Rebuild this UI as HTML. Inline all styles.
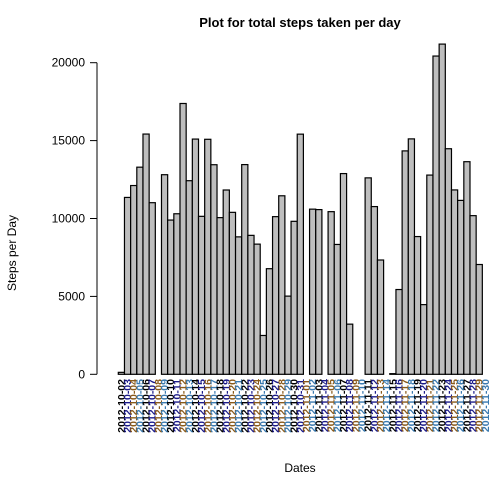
<!DOCTYPE html>
<html><head><meta charset="utf-8"><style>
body{margin:0;background:#fff}
svg{display:block;font-family:"Liberation Sans",Arial,sans-serif}
</style></head><body>
<svg id="chart" width="504" height="504" viewBox="0 0 504 504" xmlns="http://www.w3.org/2000/svg">
<text x="300" y="27" text-anchor="middle" font-size="13" font-weight="bold">Plot for total steps taken per day</text>
<text transform="translate(16,253) rotate(-90)" text-anchor="middle" font-size="12">Steps per Day</text>
<text x="300" y="472" text-anchor="middle" font-size="12">Dates</text>
<g id="bars"></g><g id="yaxis"></g><g id="xlabels"></g>
</svg>
<script>
const dates=["2012-10-02","2012-10-03","2012-10-04","2012-10-05","2012-10-06","2012-10-07","2012-10-08","2012-10-09","2012-10-10","2012-10-11","2012-10-12","2012-10-13","2012-10-14","2012-10-15","2012-10-16","2012-10-17","2012-10-18","2012-10-19","2012-10-20","2012-10-21","2012-10-22","2012-10-23","2012-10-24","2012-10-25","2012-10-26","2012-10-27","2012-10-28","2012-10-29","2012-10-30","2012-10-31","2012-11-01","2012-11-02","2012-11-03","2012-11-04","2012-11-05","2012-11-06","2012-11-07","2012-11-08","2012-11-09","2012-11-10","2012-11-11","2012-11-12","2012-11-13","2012-11-14","2012-11-15","2012-11-16","2012-11-17","2012-11-18","2012-11-19","2012-11-20","2012-11-21","2012-11-22","2012-11-23","2012-11-24","2012-11-25","2012-11-26","2012-11-27","2012-11-28","2012-11-29","2012-11-30"];
const steps=[126,11352,12116,13294,15420,11015,null,12811,9900,10304,17382,12426,15098,10139,15084,13452,10056,11829,10395,8821,13460,8918,8355,2492,6778,10119,11458,5018,9819,15414,null,10600,10571,null,10439,8334,12883,3219,null,null,12608,10765,7336,null,41,5441,14339,15110,8841,4472,12787,20427,21194,14478,11834,11162,13646,10183,7047,null];
const yTicks=[0,5000,10000,15000,20000];
const NS="http://www.w3.org/2000/svg";
const x0=118.3,bw=6.17,yBase=374.3,yTop=62.7;
const xs=i=>x0+i*bw;
const ys=v=>yBase-(v/20000)*(yBase-yTop);
const bars=document.getElementById('bars');
steps.forEach((v,i)=>{
  if(v==null)return;
  const r=document.createElementNS(NS,'rect');
  r.setAttribute('x',xs(i));r.setAttribute('y',ys(v));
  r.setAttribute('width',bw);r.setAttribute('height',Math.max(yBase-ys(v),0.5));
  r.setAttribute('fill','#bebebe');r.setAttribute('stroke','#000');r.setAttribute('stroke-width','1.2');
  
  
  bars.appendChild(r);
});
const ya=document.getElementById('yaxis');
const ax=document.createElementNS(NS,'line');
ax.setAttribute('x1',97);ax.setAttribute('x2',97);ax.setAttribute('y1',ys(0));ax.setAttribute('y2',ys(20000));ax.setAttribute('stroke','#000');


ya.appendChild(ax);
yTicks.forEach(t=>{
  const l=document.createElementNS(NS,'line');
  l.setAttribute('x1',90);l.setAttribute('x2',97);l.setAttribute('y1',ys(t));l.setAttribute('y2',ys(t));l.setAttribute('stroke','#000');
  
  
  ya.appendChild(l);
  const tx=document.createElementNS(NS,'text');
  tx.setAttribute('x',85);tx.setAttribute('y',ys(t)+4);tx.setAttribute('text-anchor','end');tx.setAttribute('font-size','12');
  tx.textContent=t;
  
  
  ya.appendChild(tx);
});
const xl=document.getElementById('xlabels');
const cols=['#000','#1a1a8a','#8a5a1a','#3a7ab0'];
dates.forEach((d,i)=>{
  const tx=document.createElementNS(NS,'text');
  const cx=xs(i)+bw/2+3.5;
  tx.setAttribute('transform','translate('+cx+',379) rotate(-90)');
  tx.setAttribute('text-anchor','end');tx.setAttribute('font-size','10.5');
  tx.setAttribute('font-weight','bold');
  tx.setAttribute('fill',cols[i%4]);
  tx.textContent=d;
  
  
  xl.appendChild(tx);
});
</script>
</body></html>
